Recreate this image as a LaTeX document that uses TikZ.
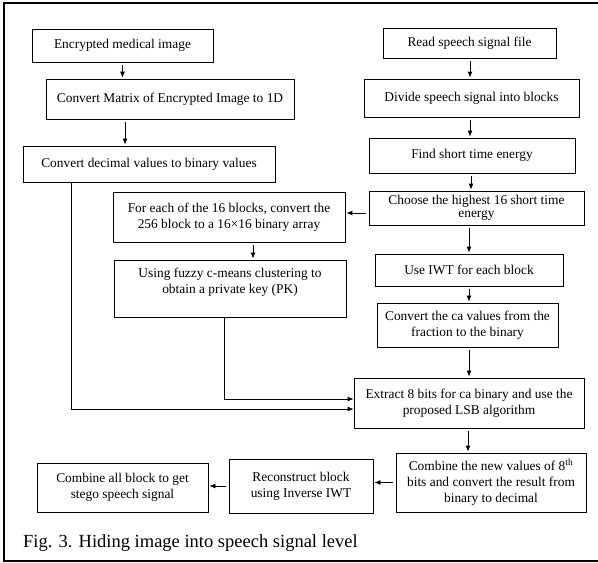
\documentclass[tikz,border=0pt]{standalone}
\usepackage{fontspec}
\setmainfont{Liberation Serif}
\usetikzlibrary{arrows.meta}
\begin{document}
\begin{tikzpicture}[x=1pt, y=-1pt, font=\fontsize{13.4}{16}\selectfont,
    box/.style={draw, line width=0.8pt, inner sep=1pt, align=center},
    arr/.style={-{Latex[length=6pt,width=5pt]}, line width=0.8pt, shorten <=3pt, shorten >=1pt},
    feed/.style={-{Latex[length=6pt,width=5pt]}, line width=0.8pt}]
  \useasboundingbox (0,0) rectangle (598,563);
  % ---- frame ---------------------------------------------------------------
  \draw[line width=1.3pt] (600,3) -- (4,3) -- (4,561) -- (600,561);
  % ---- image column --------------------------------------------------------
  \node[box, minimum width=181, minimum height=33] (enc) at (122.5, 45.5) {Encrypted medical image};
  \node[box, minimum width=248, minimum height=40] (mat) at (170, 99) {Convert Matrix of Encrypted Image to 1D};
  \node[box, minimum width=252, minimum height=36] (dec) at (149, 164) {Convert decimal values to binary values};
  \node[box, minimum width=232, minimum height=50] (blk) at (229, 217)
    {For each of the 16 blocks, convert the\\256 block to a 16×16 binary array};
  \node[box, minimum width=232, minimum height=57] (fcm) at (230, 288.5)
    {Using fuzzy c-means clustering to\\obtain a private key (PK)\\ \mbox{}};
  % ---- speech column -------------------------------------------------------
  \node[box, minimum width=173, minimum height=30] (read) at (469.5, 43) {Read speech signal file};
  \node[box, minimum width=215, minimum height=38] (div) at (471.5, 98) {Divide speech signal into blocks};
  \node[box, minimum width=206, minimum height=35] (ste) at (472, 155.5) {Find short time energy};
  \node[box, minimum width=215, minimum height=34, font=\fontsize{13.4}{13}\selectfont] (cho) at (476.5, 208)
    {Choose the highest 16 short time\\energy};
  \node[box, minimum width=188, minimum height=32] (iwt) at (469, 270) {Use IWT for each block};
  \node[box, minimum width=181, minimum height=44] (ca) at (467.5, 325)
    {Convert the ca values from the\\fraction to the binary};
  \node[box, minimum width=230, minimum height=50] (lsb) at (469, 403)
    {Extract 8 bits for ca binary and use the\\proposed LSB algorithm};
  % ---- bottom row ----------------------------------------------------------
  \node[box, minimum width=190, minimum height=59] (comb) at (491, 482.5)
    {Combine the new values of 8\textsuperscript{th}\\bits and convert the result from\\binary to decimal};
  \node[box, minimum width=144, minimum height=54] (rec) at (301, 486)
    {Reconstruct block\\using Inverse IWT};
  \node[box, minimum width=171, minimum height=49] (all) at (122.5, 487.5)
    {Combine all block to get\\stego speech signal};
  \node[anchor=base west, inner sep=0pt, font=\fontsize{18.5}{20}\selectfont] (cap) at (23, 547)
    {Fig. 3. Hiding image into speech signal level};
  % ---- connectors ----------------------------------------------------------
  \draw[arr] (enc.south) -- (enc.south |- mat.north);
  \draw[arr] (125,0 |- mat.south) -- (125,0 |- dec.north);
  \draw[arr] (253,0 |- blk.south) -- (253,0 |- fcm.north);
  \foreach \a/\b/\x in {read/div/470, div/ste/470, ste/cho/471, cho/iwt/469, iwt/ca/469, ca/lsb/469, lsb/comb/468} {
    \draw[arr] (\x,0 |- \a.south) -- (\x,0 |- \b.north);}
  \draw[arr] (cho.west |- 0,213) -- (blk.east |- 0,213);
  \draw[arr] (comb.west) -- (rec.east |- comb.west);
  \draw[arr] (rec.west) -- (all.east |- rec.west);
  \draw[feed] (224,0 |- fcm.south) -- (224,399) -- (lsb.west |- 0,399);
  \draw[feed] (71,0 |- dec.south) -- (71,409) -- (lsb.west |- 0,409);
\end{tikzpicture}
\end{document}
